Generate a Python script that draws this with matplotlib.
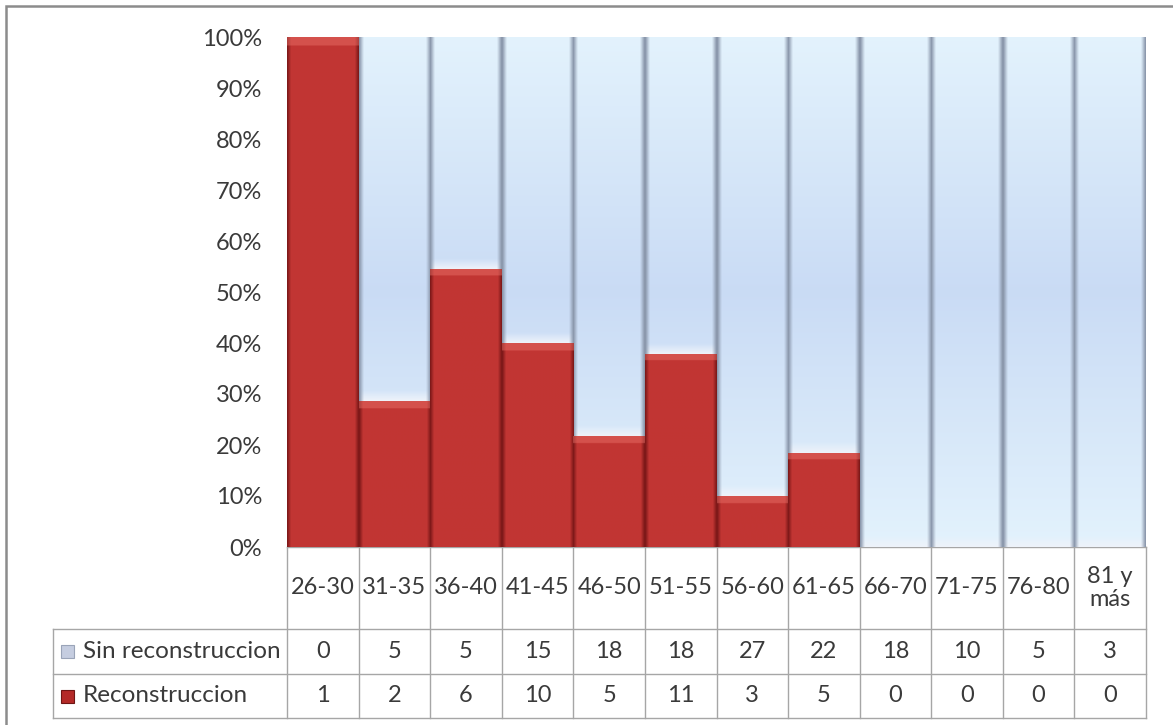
import matplotlib.pyplot as plt
import matplotlib.transforms as mtransforms
from matplotlib.patches import Rectangle
import numpy as np

plt.rcParams['font.family'] = ['Lato', 'DejaVu Sans']

# data
categories = ['26-30', '31-35', '36-40', '41-45', '46-50', '51-55',
              '56-60', '61-65', '66-70', '71-75', '76-80', '81 y\nmás']
sin_recon = [0, 5, 5, 15, 18, 18, 27, 22, 18, 10, 5, 3]
recon = [1, 2, 6, 10, 5, 11, 3, 5, 0, 0, 0, 0]
series_names = ['Sin reconstruccion', 'Reconstruccion']
ytick_labels = ['0%', '10%', '20%', '30%', '40%', '50%', '60%', '70%', '80%', '90%', '100%']

W, H = 1173, 725
fig = plt.figure(figsize=(W / 100, H / 100), dpi=100)

# pixel layout of the plot area
left_px, right_px, top_px, bottom_px = 287, 1146, 37, 547
ax = fig.add_axes([left_px / W, 1 - bottom_px / H,
                   (right_px - left_px) / W, (bottom_px - top_px) / H])
ph = bottom_px - top_px
col_px = (right_px - left_px) / len(categories)

sin_arr = np.array(sin_recon, dtype=float)
rec_arr = np.array(recon, dtype=float)
total = sin_arr + rec_arr
rec_pct = rec_arr / total
sin_pct = sin_arr / total

x = np.arange(len(categories))
bars_rec = ax.bar(x, rec_pct, width=1.0, color='#bb3230', edgecolor='#7a1a18',
                  linewidth=0.8, zorder=2)
bars_sin = ax.bar(x, sin_pct, bottom=rec_pct, width=1.0, color='#d3e4f6',
                  edgecolor='#8a98aa', linewidth=1.2, zorder=2)


# shaded fill for each bar, clipped to the bar
def shade_bar(patch, kind):
    bx, by = patch.get_x(), patch.get_y()
    bw, bh = patch.get_width(), patch.get_height()
    if bh <= 0:
        return
    nx, ny = 60, 300
    u = np.linspace(0, 1, nx)
    ys = np.linspace(by + bh, by, ny)
    edge = np.clip(np.minimum(u, 1 - u) / 0.06, 0, 1)
    if kind == 'blue':
        top_c = np.array([0.89, 0.95, 0.99])
        mid_c = np.array([0.79, 0.86, 0.96])
        t = np.clip(1 - np.abs(ys - 0.5) / 0.5, 0, 1)[:, None, None]
        col = top_c * (1 - t) + mid_c * t
        col = np.repeat(col, nx, axis=1)
        # lighter bevel at the bottom of the bar
        b = np.clip((ys - by) / (10 / ph), 0, 1)[:, None, None]
        col = col * b + np.array([0.93, 0.95, 0.98]) * (1 - b)
        dark = np.array([0.55, 0.60, 0.68])
        e = edge[None, :, None]
        img = col * e + dark * (1 - e)
    else:
        body = np.array([0.76, 0.21, 0.20])
        dark = np.array([0.50, 0.10, 0.10])
        img = np.ones((ny, nx, 3)) * body
        e = np.clip(np.minimum(u, 1 - u) / 0.05, 0, 1)[None, :, None]
        img = img * e + dark * (1 - e)
        # bevel at the top
        top_rows = ys > by + bh - 7 / ph
        img[top_rows] = img[top_rows] * 0.55 + np.array([0.92, 0.45, 0.42]) * 0.45
    im = ax.imshow(img, extent=[bx, bx + bw, by, by + bh], aspect='auto',
                   interpolation='bilinear', zorder=2.5)
    im.set_clip_path(patch)


for p in bars_sin:
    shade_bar(p, 'blue')
for p in bars_rec:
    shade_bar(p, 'red')

ax.set_xlim(-0.5, len(categories) - 0.5)
ax.set_ylim(0, 1)
ax.set_yticks(np.linspace(0, 1, 11))
ax.set_yticklabels(ytick_labels, fontsize=17, color='#3a3a3a')
ax.tick_params(axis='y', length=0, pad=18)
ax.set_xticks([])
for s in ax.spines.values():
    s.set_visible(False)


# data table below the axis
def ay(px):
    return (bottom_px - px) / ph


row_cat_bot = ay(629)
row_sin_bot = ay(674)
row_rec_bot = ay(718)
label_left = -0.5 - (left_px - 53) / col_px

trans = mtransforms.blended_transform_factory(ax.transData, ax.transAxes)
line_kw = dict(color='#a6a6a6', linewidth=1.0, transform=trans, clip_on=False)

# vertical lines
for i in range(len(categories) + 1):
    ax.plot([i - 0.5, i - 0.5], [0, row_rec_bot], **line_kw)
ax.plot([label_left, label_left], [row_cat_bot, row_rec_bot], **line_kw)
# horizontal lines
ax.plot([-0.5, len(categories) - 0.5], [0, 0], **line_kw)
for yy in (row_cat_bot, row_sin_bot, row_rec_bot):
    ax.plot([label_left, len(categories) - 0.5], [yy, yy], **line_kw)

txt_kw = dict(transform=trans, ha='center', va='center', fontsize=17,
              color='#3a3a3a', clip_on=False)
for i, c in enumerate(categories):
    ax.text(i, (0 + row_cat_bot) / 2, c, linespacing=1.1, **txt_kw)
    ax.text(i, (row_cat_bot + row_sin_bot) / 2, str(sin_recon[i]), **txt_kw)
    ax.text(i, (row_sin_bot + row_rec_bot) / 2, str(recon[i]), **txt_kw)

# row labels with legend keys
key_w = 13 / col_px
key_h = 13 / ph
key_x = label_left + 8 / col_px
for (y0, y1), name, fc, ec in [((row_cat_bot, row_sin_bot), series_names[0], '#c5cde0', '#9aa4b8'),
                               ((row_sin_bot, row_rec_bot), series_names[1], '#b42a28', '#6e1614')]:
    yc = (y0 + y1) / 2
    ax.add_patch(Rectangle((key_x, yc - key_h / 2), key_w, key_h, facecolor=fc,
                           edgecolor=ec, linewidth=0.8, transform=trans, clip_on=False))
    ax.text(label_left + 30 / col_px, yc, name, transform=trans, ha='left', va='center',
            fontsize=17.5, color='#3a3a3a', clip_on=False)

# outer frame of the chart
fig.add_artist(Rectangle((6 / W, -0.1), 1.2, 1 - 6 / H + 0.1, transform=fig.transFigure,
                         facecolor='none', edgecolor='#8c8c8c', linewidth=1.8))

fig.savefig('out.png', dpi=100)
